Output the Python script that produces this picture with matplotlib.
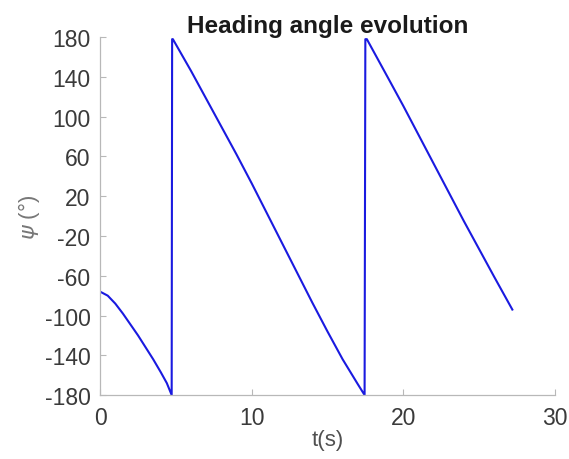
import matplotlib
matplotlib.use("Agg")
import matplotlib.pyplot as plt

# Heading angle (degrees), split at the wrap-around jumps
t_vals = [0.0, 0.5, 1.0, 1.5, 2.0, 2.5, 3.0, 3.5, 4.0, 4.4, 4.72,
          4.75,
          4.8, 6.0, 7.0, 8.0, 9.0, 10.0, 11.0, 12.0, 13.0, 14.0, 15.0, 16.0, 17.0, 17.45,
          17.5,
          17.6, 19.0, 20.0, 21.0, 22.0, 23.0, 24.0, 25.0, 26.0, 27.2]
psi_vals = [-76, -80, -88, -98, -109, -120, -132, -144, -157, -168, -180,
            178,
            178, 146, 118, 90, 62, 33, 3, -27, -57, -87, -116, -144, -169, -180,
            178,
            178, 139, 111, 82, 53, 24, -5, -33, -61, -94]

x_ticks = [0, 10, 20, 30]
y_ticks = [-180, -140, -100, -60, -20, 20, 60, 100, 140, 180]

plt.rcParams['font.family'] = ['Liberation Sans', 'DejaVu Sans']
plt.rcParams['mathtext.fontset'] = 'dejavusans'
plt.rcParams['axes.unicode_minus'] = False

fig = plt.figure(figsize=(5.69, 4.60), dpi=100)
ax = fig.add_axes([0.176, 0.139, 0.799, 0.778])

ax.plot(t_vals, psi_vals, color='#1a1ae0', linewidth=1.5)

ax.set_xlim(0, 30)
ax.set_ylim(-180, 180)
ax.set_xticks(x_ticks)
ax.set_yticks(y_ticks)

for s in ['top', 'right']:
    ax.spines[s].set_visible(False)
for s in ['left', 'bottom']:
    ax.spines[s].set_color('#b8b8b8')
    ax.spines[s].set_linewidth(0.9)

ax.tick_params(direction='in', length=4, color='#b8b8b8', labelsize=16.5,
               labelcolor='#3a3a3a')
ax.tick_params(axis='y', pad=7)
ax.tick_params(axis='x', pad=8)

ax.set_title('Heading angle evolution', fontsize=17.5, fontweight='bold',
             color='#1a1a1a', pad=4)
ax.set_xlabel('t(s)', fontsize=16, color='#505050', labelpad=0)
ax.set_ylabel(r'$\psi$ (°)', fontsize=16, color='#777777', labelpad=2)

fig.savefig('out.png', dpi=100, facecolor='white')
